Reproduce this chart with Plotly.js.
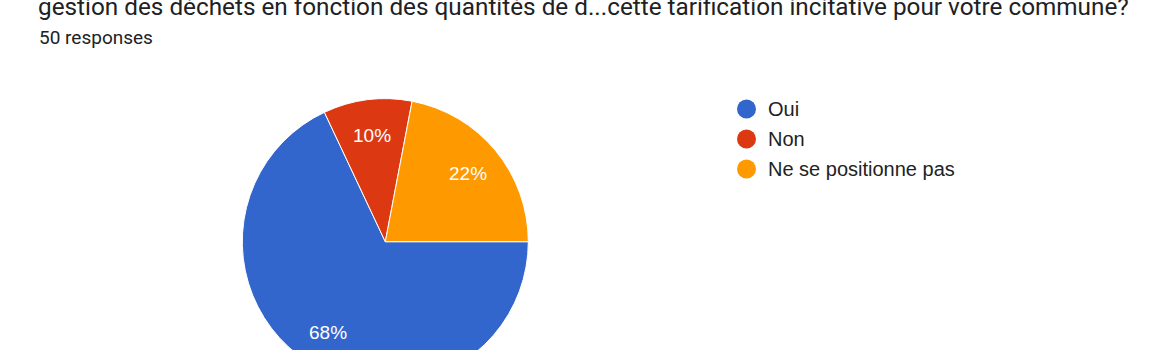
<!DOCTYPE html>
<html>
<head>
<meta charset="utf-8">
<script src="https://cdn.plot.ly/plotly-3.0.1.min.js"></script>
<style>
html,body{margin:0;padding:0;background:#fff;overflow:hidden;}
#chart{width:1170px;height:500px;}
</style>
</head>
<body>
<div id="chart"></div>
<script>
const categories = ["Oui", "Non", "Ne se positionne pas"];
const counts = [34, 5, 11];
const colors = ["#3366cc", "#dc3912", "#ff9900"];
const titleText = "gestion des déchets en fonction des quantités de d...cette tarification incitative pour votre commune?";
const subtitleText = "50 responses";

const W = 1170, H = 500;
const cx = 385.3, cy = 241.7, R = 143;
const startDeg = 90;

const trace = {
  type: "pie",
  labels: categories,
  values: counts,
  sort: false,
  direction: "clockwise",
  rotation: startDeg,
  marker: {colors: colors, line: {color: "#ffffff", width: 1}},
  textinfo: "none",
  hoverinfo: "none",
  domain: {
    x: [(cx - R) / W, (cx + R) / W],
    y: [(H - cy - R) / H, (H - cy + R) / H]
  },
  showlegend: false
};

const annotations = [
  {text: titleText, xref: "paper", yref: "paper", x: 36 / W, y: 1 - 6.4 / H, xanchor: "left", yanchor: "middle", showarrow: false,
   font: {family: "Roboto, sans-serif", size: 24.3, color: "#202124"}},
  {text: subtitleText, xref: "paper", yref: "paper", x: 37 / W, y: 1 - 38 / H, xanchor: "left", yanchor: "middle", showarrow: false,
   font: {family: "Roboto, sans-serif", size: 19, color: "#202124"}}
];

// slice percentage labels placed at the mid-angle of each slice
const total = counts.reduce((a, b) => a + b, 0);
let cum = 0;
const labelR = 0.75 * R;
counts.forEach((v, i) => {
  const mid = (startDeg + (cum + v / 2) / total * 360) * Math.PI / 180;
  cum += v;
  const px = cx + labelR * Math.sin(mid);
  const py = cy - labelR * Math.cos(mid);
  annotations.push({text: Math.round(v / total * 100) + "%", xref: "paper", yref: "paper", x: px / W, y: 1 - py / H,
    xanchor: "center", yanchor: "middle", showarrow: false,
    font: {family: "Liberation Sans, Arial, sans-serif", size: 19, color: "#ffffff"}});
});

const shapes = [];
const legendX = 746.5, legendTextX = 766, legendY0 = 109, legendStep = 30;
categories.forEach((c, i) => {
  const ly = legendY0 + i * legendStep;
  shapes.push({type: "circle", xref: "paper", yref: "paper", xsizemode: "pixel", ysizemode: "pixel",
    xanchor: legendX / W, yanchor: 1 - ly / H, x0: -9.5, x1: 9.5, y0: -9.5, y1: 9.5,
    fillcolor: colors[i], line: {width: 0}});
  annotations.push({text: c, xref: "paper", yref: "paper", x: legendTextX / W, y: 1 - ly / H, xanchor: "left", yanchor: "middle",
    showarrow: false, font: {family: "Liberation Sans, Arial, sans-serif", size: 20, color: "#222222"}});
});

const layout = {
  width: W, height: H,
  margin: {l: 0, r: 0, t: 0, b: 0},
  paper_bgcolor: "#ffffff",
  plot_bgcolor: "#ffffff",
  showlegend: false,
  annotations: annotations,
  shapes: shapes
};

Plotly.newPlot("chart", [trace], layout, {staticPlot: true, displayModeBar: false});
</script>
</body>
</html>
